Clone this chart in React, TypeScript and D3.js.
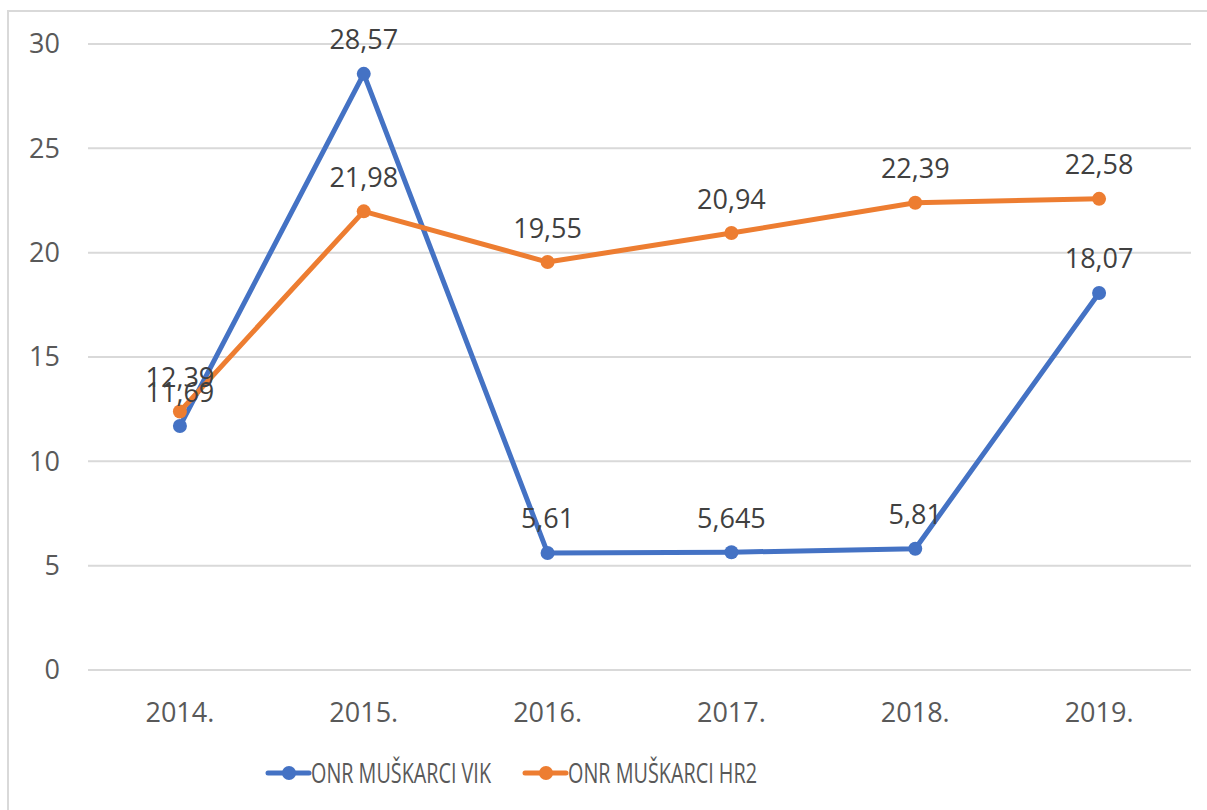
import React from 'react';
import * as d3 from 'd3';

const years = ['2014.', '2015.', '2016.', '2017.', '2018.', '2019.'];
const vikValues = [11.69, 28.57, 5.61, 5.645, 5.81, 18.07];
const hr2Values = [12.39, 21.98, 19.55, 20.94, 22.39, 22.58];
const vikLabels = ['11,69', '28,57', '5,61', '5,645', '5,81', '18,07'];
const hr2Labels = ['12,39', '21,98', '19,55', '20,94', '22,39', '22,58'];
const yTicks = [0, 5, 10, 15, 20, 25, 30];

const W = 1207;
const H = 810;
const FONT = '"Open Sans", sans-serif';
const TEXT = '#595959';

const App: React.FC = () => {
  const x = d3.scaleBand<string>().domain(years).range([88, 1191]);
  const y = d3.scaleLinear().domain([0, 30]).range([670, 44]);
  const cx = (d: string) => (x(d) ?? 0) + x.bandwidth() / 2;

  const line = d3
    .line<number>()
    .x((_, i) => cx(years[i]))
    .y(d => y(d));

  const series = [
    { name: 'ONR MUŠKARCI VIK', values: vikValues, labels: vikLabels, color: '#4472C4', lx: 268, tw: 180 },
    { name: 'ONR MUŠKARCI HR2', values: hr2Values, labels: hr2Labels, color: '#ED7D31', lx: 525, tw: 189 },
  ];

  return (
    <svg
      width={W}
      height={H}
      style={{ position: 'absolute', left: 0, top: 0, background: '#fff' }}
      fontFamily={FONT}
    >
      {/* chart frame, cropped at right and bottom */}
      <rect x={8} y={11} width={1250} height={850} fill="#fff" stroke="#d9d9d9" strokeWidth={2} />

      {/* gridlines + y labels */}
      {yTicks.map(t => (
        <g key={t}>
          <line x1={88} x2={1191} y1={y(t)} y2={y(t)} stroke="#d9d9d9" strokeWidth={2} />
          <text x={60} y={y(t)} dy="0.35em" textAnchor="end" fontSize={27} fill={TEXT}>
            {t}
          </text>
        </g>
      ))}

      {/* x labels */}
      {years.map(d => (
        <text key={d} x={cx(d)} y={713} dy="0.35em" textAnchor="middle" fontSize={27} fill={TEXT}>
          {d}
        </text>
      ))}

      {/* lines */}
      {series.map(s => (
        <path
          key={s.name}
          d={line(s.values) ?? ''}
          fill="none"
          stroke={s.color}
          strokeWidth={5}
          strokeLinejoin="round"
          strokeLinecap="round"
        />
      ))}

      {/* markers */}
      {series.map(s =>
        s.values.map((v, i) => (
          <circle key={s.name + i} cx={cx(years[i])} cy={y(v)} r={7} fill={s.color} />
        ))
      )}

      {/* data labels */}
      {series.map(s =>
        s.values.map((v, i) => (
          <text
            key={s.name + 'l' + i}
            x={cx(years[i])}
            y={y(v) - 34}
            dy="0.35em"
            textAnchor="middle"
            fontSize={27}
            fill="#404040"
          >
            {s.labels[i]}
          </text>
        ))
      )}

      {/* legend */}
      {series.map(s => (
        <g key={s.name + 'leg'}>
          <line x1={s.lx} x2={s.lx + 41} y1={773} y2={773} stroke={s.color} strokeWidth={5} strokeLinecap="round" />
          <circle cx={s.lx + 21} cy={773} r={7} fill={s.color} />
          <text
            x={s.lx + 43}
            y={773}
            dy="0.35em"
            fontSize={28}
            fill={TEXT}
            textLength={s.tw}
            lengthAdjust="spacingAndGlyphs"
          >
            {s.name}
          </text>
        </g>
      ))}
    </svg>
  );
};

export default App;
